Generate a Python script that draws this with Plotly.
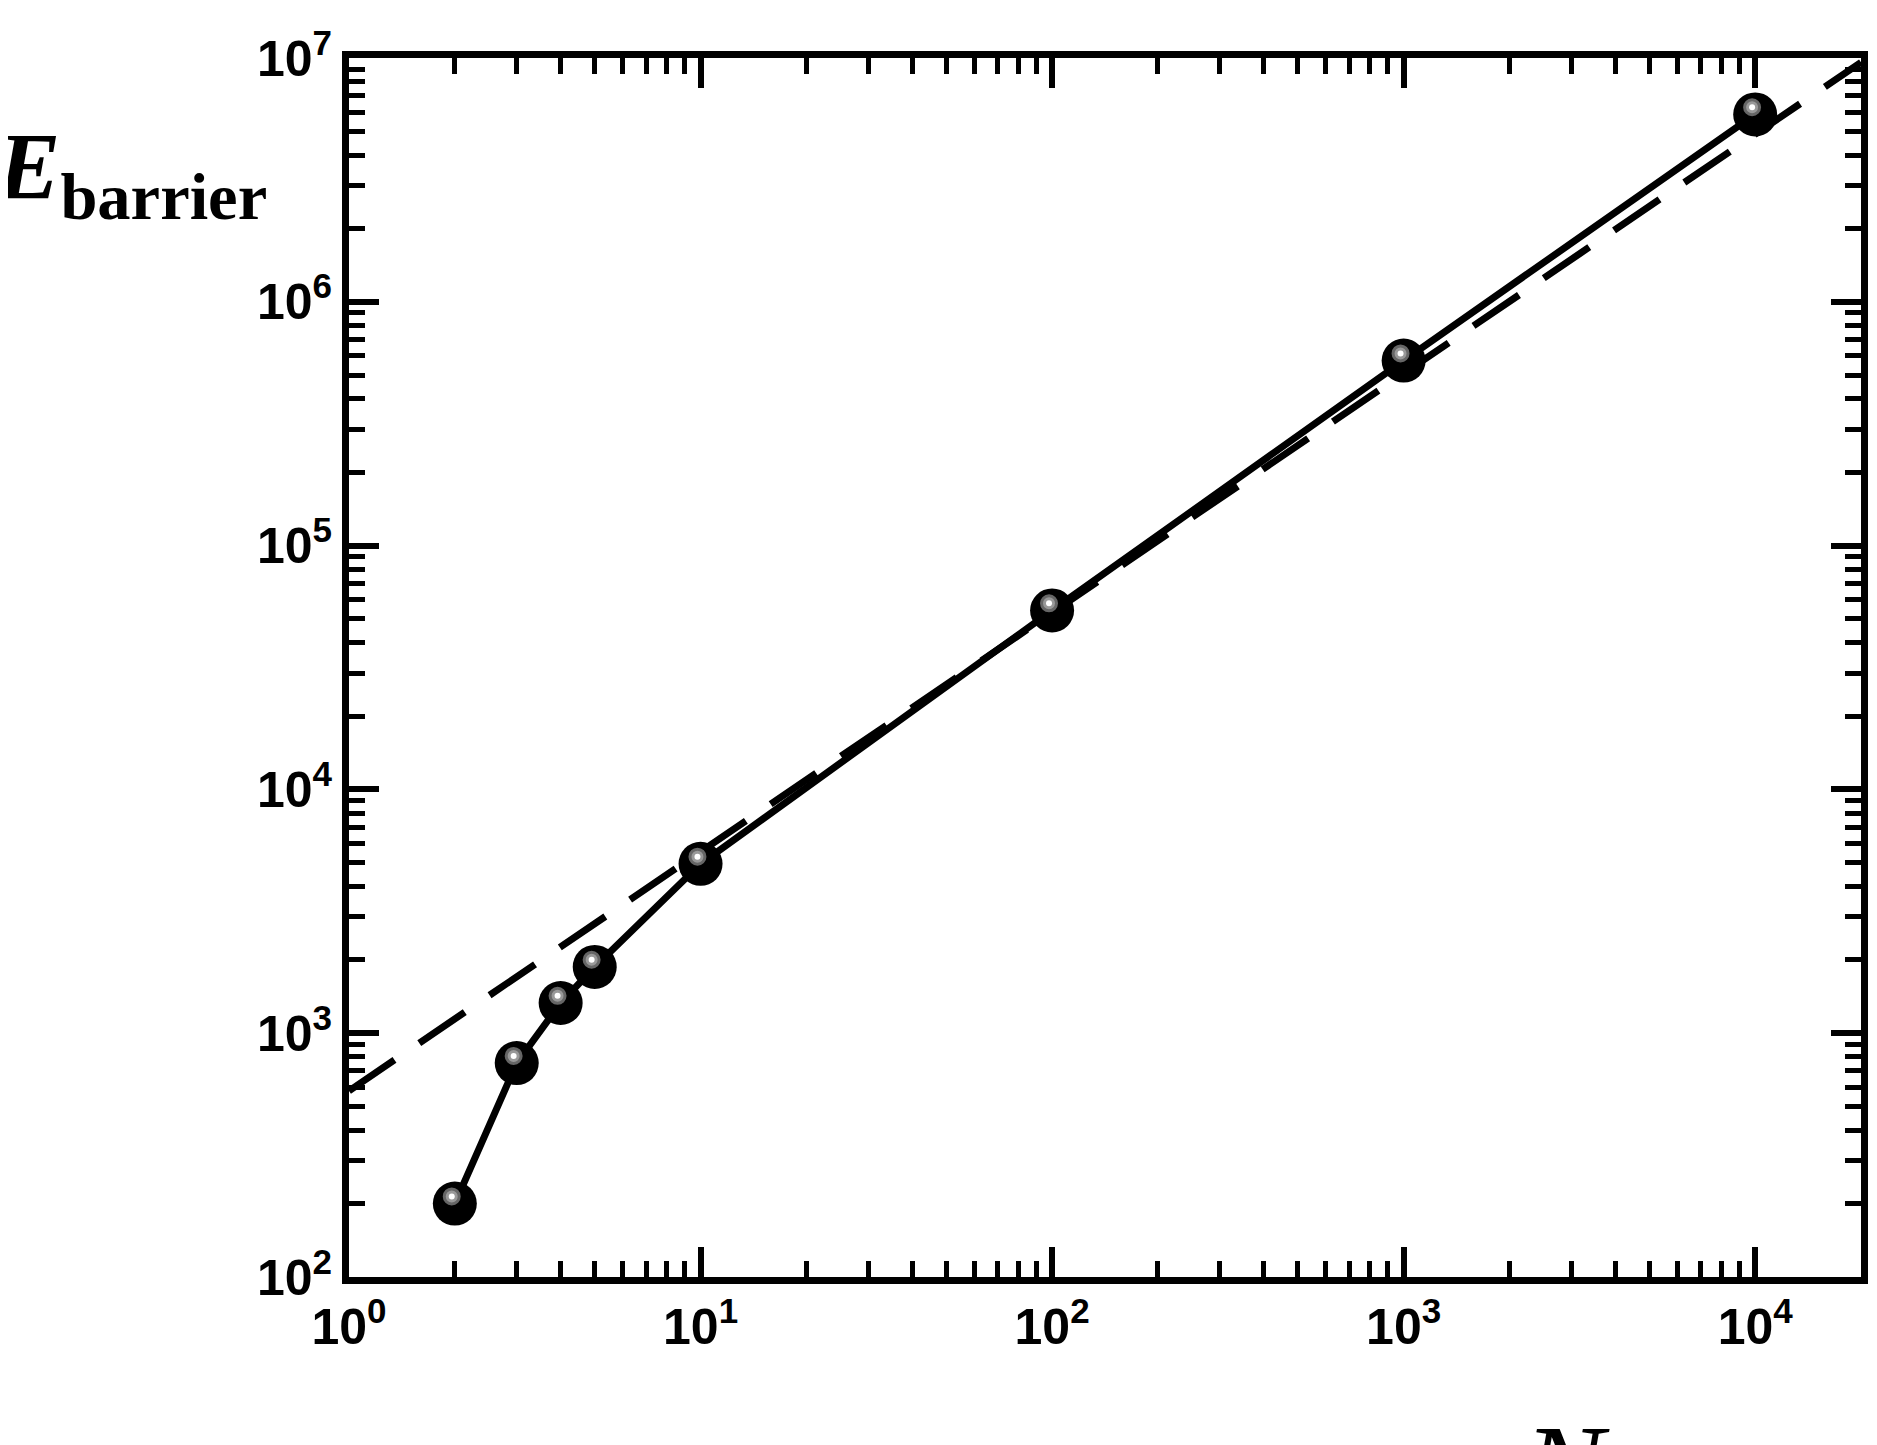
import plotly.graph_objects as go

N = [2, 3, 4, 5, 10, 100, 1000, 10000]
E = [200, 754, 1330, 1870, 4950, 54200, 574000, 5870000]
fit_N = [1, 20000]
fit_E = [580, 9.6e6]
xtick_vals = [1, 10, 100, 1000, 10000]
xtick_text = ["<b>10<sup>0</sup></b>", "<b>10<sup>1</sup></b>", "<b>10<sup>2</sup></b>", "<b>10<sup>3</sup></b>", "<b>10<sup>4</sup></b>"]
ytick_vals = [1e2, 1e3, 1e4, 1e5, 1e6, 1e7]
ytick_text = ["<b>10<sup>2</sup></b>", "<b>10<sup>3</sup></b>", "<b>10<sup>4</sup></b>", "<b>10<sup>5</sup></b>", "<b>10<sup>6</sup></b>", "<b>10<sup>7</sup></b>"]

fig = go.Figure()
fig.add_trace(go.Scatter(x=fit_N, y=fit_E, mode="lines",
                         line=dict(color="black", width=7, dash="55px,30px"), hoverinfo="skip"))
fig.add_trace(go.Scatter(x=N, y=E, mode="lines", line=dict(color="black", width=7)))
fig.add_trace(go.Scatter(x=N, y=E, mode="markers",
                         marker=dict(size=44, color="black", line=dict(width=0))))
fig.add_trace(go.Scatter(x=[n * 0.98 for n in N], y=[e * 1.07 for e in E], mode="markers",
                         marker=dict(size=15, color="#999999", line=dict(width=3, color="#666666"))))
fig.add_trace(go.Scatter(x=[n * 0.98 for n in N], y=[e * 1.07 for e in E], mode="markers",
                         marker=dict(size=6, color="white", line=dict(width=0))))

axis_common = dict(type="log", showgrid=False, zeroline=False, showline=True, linewidth=7,
                   linecolor="black", mirror="allticks", ticks="inside", ticklen=30, tickwidth=6,
                   tickcolor="black", tickfont=dict(family="Liberation Sans", size=50, color="black"),
                   minor=dict(dtick="D1", ticks="inside", ticklen=16, tickwidth=5, tickcolor="black"))
fig.update_xaxes(range=[0, 4.301], tickvals=xtick_vals, ticktext=xtick_text, **axis_common)
fig.update_yaxes(range=[2, 7], tickvals=ytick_vals, ticktext=ytick_text, **axis_common)

fig.add_annotation(xref="paper", yref="paper", x=-0.235, y=0.905, xanchor="left", yanchor="middle",
                   showarrow=False,
                   text="<i><b>E</b></i><sub><b>barrier</b></sub>",
                   font=dict(family="Liberation Serif", size=95, color="black"))
fig.add_annotation(xref="paper", yref="paper", x=0.805, y=-0.1, xanchor="center", yanchor="top",
                   showarrow=False, text="<i>N</i>",
                   font=dict(family="Liberation Serif", size=120, color="black"))

fig.update_layout(width=1877, height=1445, showlegend=False, plot_bgcolor="white",
                  paper_bgcolor="white", margin=dict(l=341, r=24, t=50, b=176),
                  font=dict(family="Liberation Sans", color="black"))
fig.write_html("out.html")
